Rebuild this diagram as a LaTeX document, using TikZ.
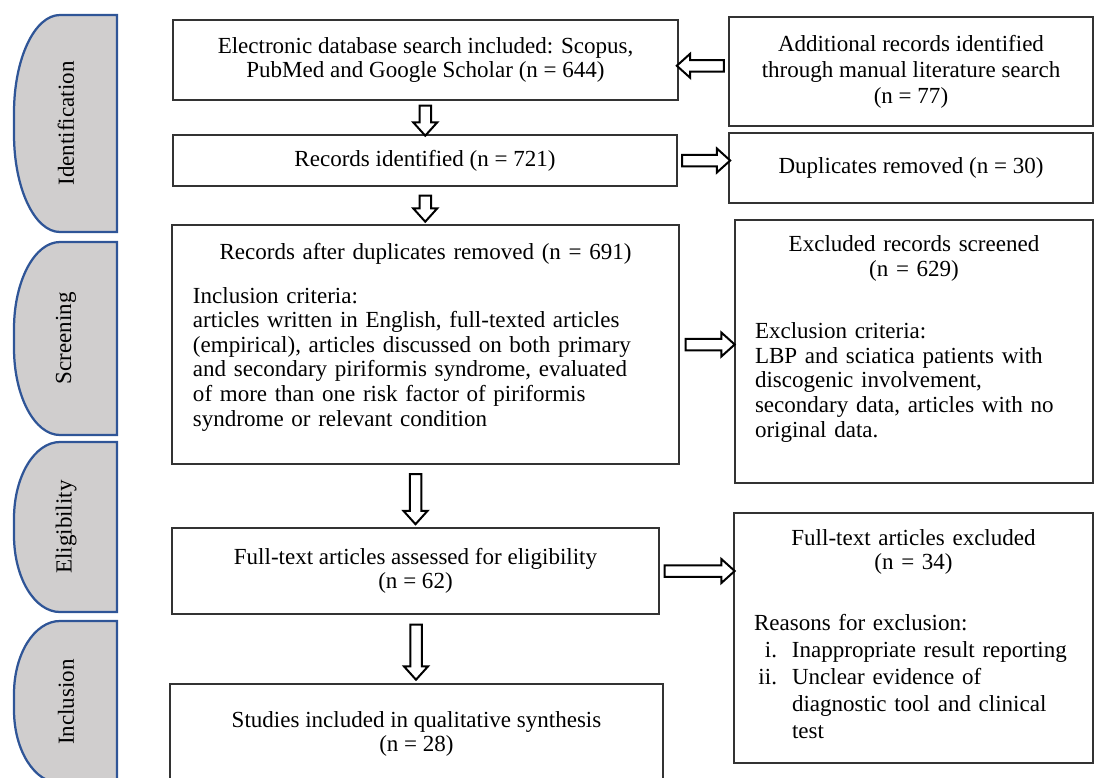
\documentclass[tikz,border=0pt]{standalone}
\usepackage{fontspec}
\setmainfont{Liberation Serif}
\usetikzlibrary{shapes.arrows}

\definecolor{tabgray}{RGB}{208,206,206}
\definecolor{tabblue}{RGB}{47,85,151}

\begin{document}
\begin{tikzpicture}[
  x=0.2mm, y=-0.2mm,
  font=\fontsize{13.1}{14}\selectfont,
  box/.style={draw=black!80, line width=0.25mm, fill=white, align=center, inner sep=0pt},
  sidebox/.style={box, align=left, inner xsep=4mm},
  tab/.style={draw=tabblue, line width=0.45mm, fill=tabgray},
  tablabel/.style={rotate=90, inner sep=0pt},
  blockarrow/.style={single arrow, draw=black, line width=0.4mm, fill=white, inner sep=0.95mm,
    minimum width=0pt, single arrow head extend=1.25mm, single arrow tip angle=84},
  downarrow/.style={blockarrow, shape border rotate=270},
  leftarrow/.style={blockarrow, shape border rotate=180}
]
\useasboundingbox (0,0) rectangle (1094,777);

% phase tabs on the left
\foreach \tname/\ttop/\tbot/\tlabel in {tabident/15/232/Identification, tabscreen/242/435/Screening,
    tabelig/442/612/Eligibility, tabincl/621/783/Inclusion}{
  \pgfmathsetmacro\try{0.45*(\tbot-\ttop)}
  \draw[tab] (117,\ttop) -- (60,\ttop) .. controls (34.6,\ttop) and (14,\ttop+0.448*\try) .. (14,\ttop+\try)
    -- (14,\tbot-\try) .. controls (14,\tbot-0.448*\try) and (34.6,\tbot) .. (60,\tbot) -- (117,\tbot) -- cycle;
  \node[tablabel] (\tname) at (66,{(\ttop+\tbot)/2}) {\tlabel};
}

% main column
\node[box, minimum width=101mm, minimum height=16mm] (search) at (425.5,60)
  {Electronic database search included: Scopus,\\PubMed and Google Scholar (n = 644)};
\node[box, minimum width=100.8mm, minimum height=10.2mm] (found) at (425,160.5)
  {Records identified (n = 721)};
\node[sidebox, text width=93mm, inner xsep=4.2mm, minimum height=47.8mm] (afterdup) at (425.5,344.5)
  {{\centering Records after duplicates removed (n = 691)\par}
   \vspace{3.9mm}
   Inclusion criteria:\\
   articles written in English, full-texted articles\\
   (empirical), articles discussed on both primary\\
   and secondary piriformis syndrome, evaluated\\
   of more than one risk factor of piriformis\\
   syndrome or relevant condition\par
   \vspace{3mm}\nointerlineskip\hbox{}};
\node[box, minimum width=97.4mm, minimum height=17.2mm] (assessed) at (415.5,571)
  {Full-text articles assessed for eligibility\\(n = 62)};
\node[box, minimum width=98.6mm, minimum height=20mm] (studies) at (416.5,734)
  {Studies included in qualitative synthesis\\(n = 28)};

% right column
\node[box, minimum width=72.8mm, minimum height=21.8mm] (additional) at (911,71.5)
  {\rule{0pt}{1mm}Additional records identified\\[0.3mm]through manual literature search\\[0.3mm](n = 77)};
\node[box, minimum width=72.8mm, minimum height=14mm] (duplicates) at (911,168)
  {Duplicates removed (n = 30)};
\node[sidebox, text width=63.6mm, minimum height=52.6mm] (excluded) at (914,351.5)
  {{\centering Excluded records screened\\(n = 629)\par}
   \vspace{7.5mm}
   Exclusion criteria:\\
   LBP and sciatica patients with\\
   discogenic involvement,\\
   secondary data, articles with no\\
   original data.\par
   \vspace{5mm}\nointerlineskip\hbox{}};
\node[sidebox, text width=63.8mm, minimum height=50mm] (ftexcluded) at (913.5,638)
  {{\centering Full-text articles excluded\\(n = 34)\par}
   \vspace{7.1mm}
   Reasons for exclusion:\\[0.5mm]
   \makebox[4.6mm][r]{i.}\hspace{3mm}Inappropriate result reporting\\[0.5mm]
   \makebox[4.6mm][r]{ii.}\hspace{3mm}Unclear evidence of\\[0.5mm]
   \hspace*{7.6mm}diagnostic tool and clinical\\[0.5mm]
   \hspace*{7.6mm}test\par
   \vspace{1.6mm}\nointerlineskip\hbox{}};

% block arrows
\path (search.south) -- node[downarrow, minimum height=6mm] (arrsearch) {} (found.north);
\path (found.south) -- node[downarrow, minimum height=5.2mm] (arrfound) {} (afterdup.north);
\path (afterdup.south -| assessed.north) -- node[downarrow, minimum height=10mm] (arrafter) {} (assessed.north);
\path (assessed.south) -- node[downarrow, minimum height=11mm] (arrassessed) {} (studies.north);

\path (additional.west) -- node[leftarrow, minimum height=9.4mm] (arradd) {} (search.east);
\path (found.east) -- node[blockarrow, minimum height=9.6mm] (arrdup) {} (found.east -| duplicates.west);
\path (afterdup.east) -- node[blockarrow, minimum height=9.8mm] (arrexcl) {} (afterdup.east -| excluded.west);
\path (assessed.east) -- node[blockarrow, minimum height=14mm] (arrft) {} (assessed.east -| ftexcluded.west);

\end{tikzpicture}
\end{document}
